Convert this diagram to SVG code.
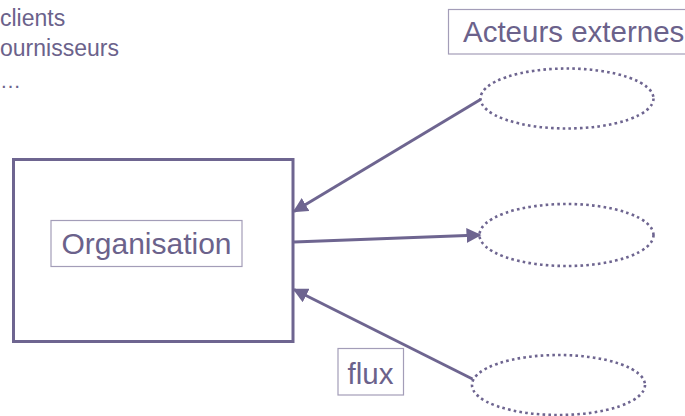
<svg xmlns="http://www.w3.org/2000/svg" width="685" height="416" viewBox="0 0 685 416">
<defs>
<style>
.t{font-family:"Liberation Sans",Arial,sans-serif;fill:#6B628B}
.lbl{fill:#fff;stroke:#A39DB8;stroke-width:1.2}
.ell{fill:none;stroke:#6E6590;stroke-width:2.6;stroke-dasharray:2.6 3.2}
.con{fill:none;stroke:#6E6590;stroke-width:3;marker-end:url(#ah)}
</style>
<marker id="ah" viewBox="0 0 10 10" refX="9" refY="5" markerWidth="5" markerHeight="5" orient="auto" markerUnits="strokeWidth">
<path d="M0,0 L10,5 L0,10 z" fill="#6E6590"/>
</marker>
</defs>
<rect width="685" height="416" fill="#fff"/>
<g id="list">
<text class="t" x="0" y="25.5" font-size="23">clients</text>
<text class="t" x="0" y="56" font-size="23">ournisseurs</text>
<text class="t" x="0" y="88" font-size="21">…</text>
</g>
<g id="organisation">
<rect x="13.5" y="159.5" width="279.5" height="182" fill="#fff" stroke="#6E6590" stroke-width="3"/>
<rect class="lbl" x="51" y="220.5" width="191" height="46"/>
<text class="t" x="146.5" y="254" font-size="30" text-anchor="middle">Organisation</text>
</g>
<g id="acteurs-externes">
<rect class="lbl" x="448.5" y="9.5" width="240" height="44.5"/>
<text class="t" x="463" y="41.5" font-size="29.5">Acteurs externes</text>
</g>
<g id="acteur1"><ellipse class="ell" cx="567" cy="98.5" rx="86.5" ry="30"/></g>
<g id="acteur2"><ellipse class="ell" cx="566.5" cy="235" rx="87" ry="31"/></g>
<g id="acteur3"><ellipse class="ell" cx="558.5" cy="385" rx="86.5" ry="30"/></g>
<g id="flux">
<rect class="lbl" x="338" y="348.5" width="65.5" height="46.5"/>
<text class="t" x="370.5" y="383.5" font-size="29.5" text-anchor="middle">flux</text>
</g>
<g id="connectors">
<line class="con" x1="480.5" y1="99.5" x2="294" y2="211.5"/>
<line class="con" x1="294" y1="242" x2="480" y2="235"/>
<line class="con" x1="472.5" y1="379" x2="294" y2="289.5"/>
</g>
</svg>
